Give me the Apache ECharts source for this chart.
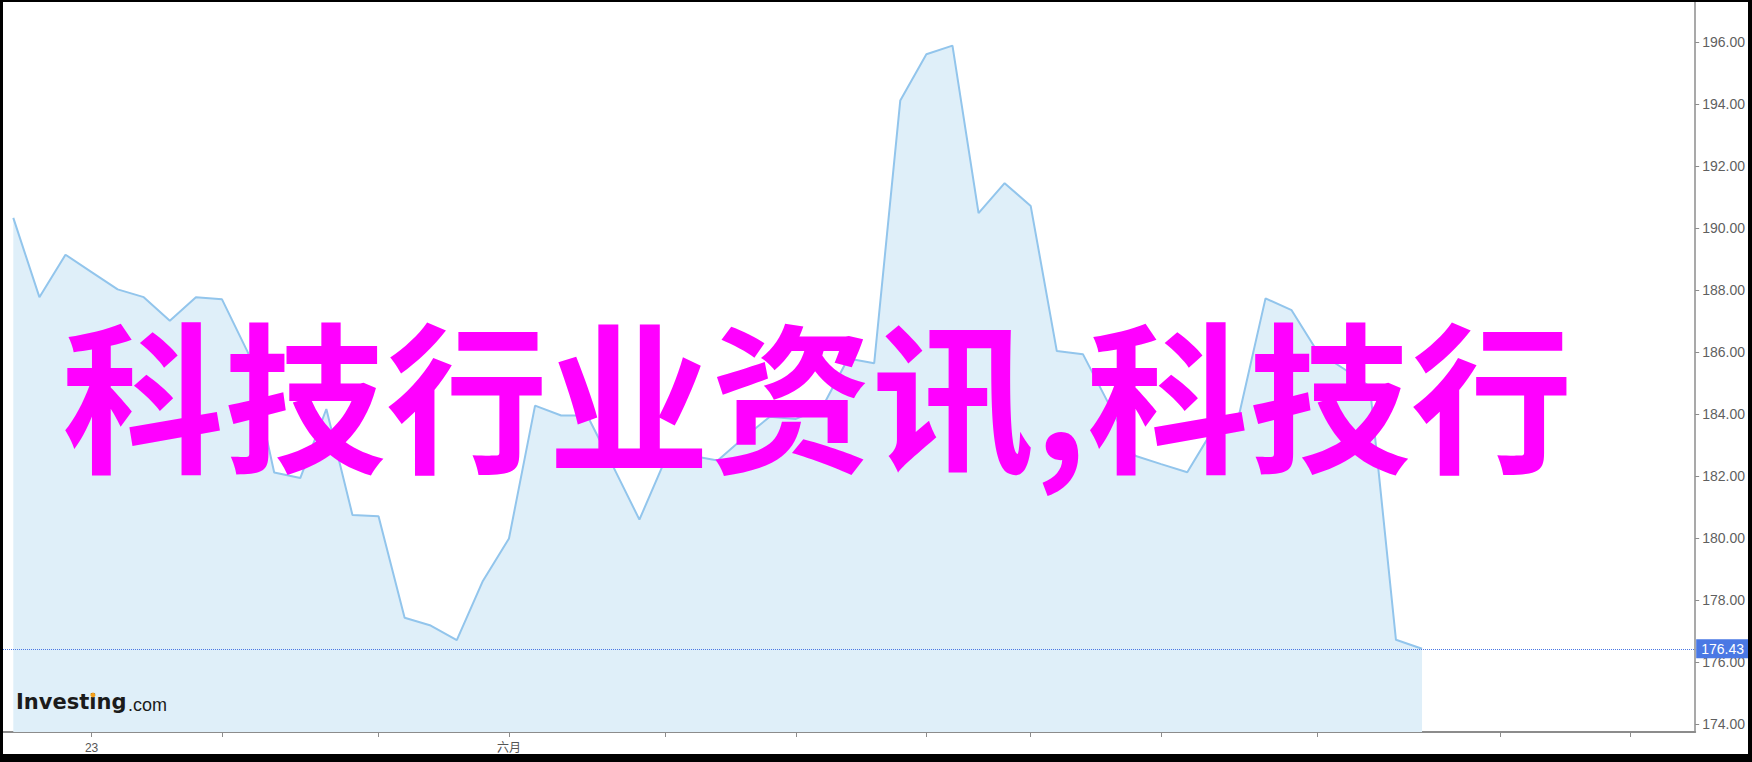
<!DOCTYPE html>
<html>
<head>
<meta charset="utf-8">
<script src="https://cdn.jsdelivr.net/npm/echarts@6.0.0/dist/echarts.min.js"></script>
<style>
  html, body { margin: 0; padding: 0; background: #000; width: 1752px; height: 762px; overflow: hidden; }
  #chart { position: absolute; left: 3px; top: 2px; width: 1745px; height: 752px; background: #fff; }
</style>
</head>
<body>
<div id="chart"></div>
<script>
// ---- data ----
const prices = [
  190.34, 187.78, 189.15, 188.59, 188.03, 187.78, 187.02, 187.78, 187.71, 185.98,
  182.12, 181.94, 184.17, 180.75, 180.71, 177.43, 177.18, 176.71, 178.62, 179.99,
  184.28, 183.96, 183.96, 182.30, 180.60, 182.55, 182.66, 182.51, 183.24, 183.92,
  183.85, 184.21, 185.80, 185.65, 194.13, 195.62, 195.90, 190.49, 191.46, 190.72,
  186.04, 185.94, 184.32, 182.66, 182.39, 182.13, 183.52, 184.03, 187.74, 187.36,
  186.01, 185.47, 184.89, 176.72, 176.43
];
const lastPrice = 176.43;
const xTickIdx = [3, 8, 14, 19, 25, 30, 35, 39, 44, 50, 57, 62];
const xLabelIdx = [3, 19];
const xLabelText = ['23', '六月'];
const yTicks = [174, 176, 178, 180, 182, 184, 186, 188, 190, 192, 194, 196];
const titleText = '科技行业资讯,科技行';

// ---- chart ----
const chart = echarts.init(document.getElementById('chart'), null, { renderer: 'svg' });
const seriesData = prices.map((v, i) => [i, v]);

chart.setOption({
  animation: false,
  backgroundColor: '#fff',
  grid: { left: 0, right: 52, top: 0, bottom: 22 },
  xAxis: {
    type: 'value',
    min: -0.395,
    max: 64.47,
    axisLine: { show: true, onZero: false, lineStyle: { color: '#8c8c8c', width: 2 } },
    axisTick: { show: true, customValues: xTickIdx, length: 5, lineStyle: { color: '#8c8c8c', width: 1 } },
    axisLabel: {
      customValues: xLabelIdx,
      formatter: v => xLabelText[xLabelIdx.indexOf(v)] || '',
      color: '#555', fontSize: 12, margin: 10,
      fontFamily: '"Liberation Sans", "Noto Sans CJK SC", sans-serif'
    },
    splitLine: { show: false }
  },
  yAxis: {
    type: 'value',
    position: 'right',
    min: 173.744,
    max: 197.307,
    axisLine: { show: true, onZero: false, lineStyle: { color: '#8c8c8c', width: 1.5 } },
    axisTick: { show: true, customValues: yTicks, length: 4, lineStyle: { color: '#8c8c8c' } },
    axisLabel: {
      customValues: yTicks,
      formatter: v => Number(v).toFixed(2),
      color: '#5f5f5f', fontSize: 14, margin: 7,
      fontFamily: '"Liberation Sans", Arial, sans-serif'
    },
    splitLine: { show: false }
  },
  series: [{
    type: 'line',
    data: seriesData,
    symbol: 'none',
    lineStyle: { color: '#92c5ec', width: 2 },
    areaStyle: { color: '#dfeff9', opacity: 1, origin: 'start' },
    markLine: {
      silent: true,
      symbol: ['none', 'none'],
      data: [{ yAxis: lastPrice }],
      lineStyle: { type: 'dotted', color: '#4a78e4', width: 1 },
      label: {
        position: 'end',
        formatter: lastPrice.toFixed(2),
        color: '#fff',
        backgroundColor: '#4a78e4',
        padding: [3, 5, 2, 5],
        fontSize: 14,
        distance: 1,
        fontFamily: '"Liberation Sans", Arial, sans-serif'
      }
    }
  }],
  graphic: [
    {
      type: 'text',
      x: 59, y: 388, z: 100,
      style: {
        text: titleText,
        fill: '#ff00ff',
        fontSize: 162,
        fontFamily: '"Noto Sans CJK SC"',
        fontWeight: 'bold',
        verticalAlign: 'middle'
      }
    },
    {
      type: 'text',
      x: 13, y: 700, z: 50,
      style: {
        text: 'Investing',
        fill: '#1b1b1b',
        fontSize: 21,
        fontFamily: '"DejaVu Sans", sans-serif',
        fontWeight: 'bold',
        verticalAlign: 'middle'
      }
    },
    {
      type: 'circle',
      z: 51,
      shape: { cx: 90, cy: 693, r: 2.4 },
      style: { fill: '#f5a01a' }
    },
    {
      type: 'text',
      x: 125, y: 703, z: 50,
      style: {
        text: '.com',
        fill: '#1b1b1b',
        fontSize: 18,
        fontFamily: '"Liberation Sans", Arial, sans-serif',
        verticalAlign: 'middle'
      }
    }
  ]
});
</script>
</body>
</html>
